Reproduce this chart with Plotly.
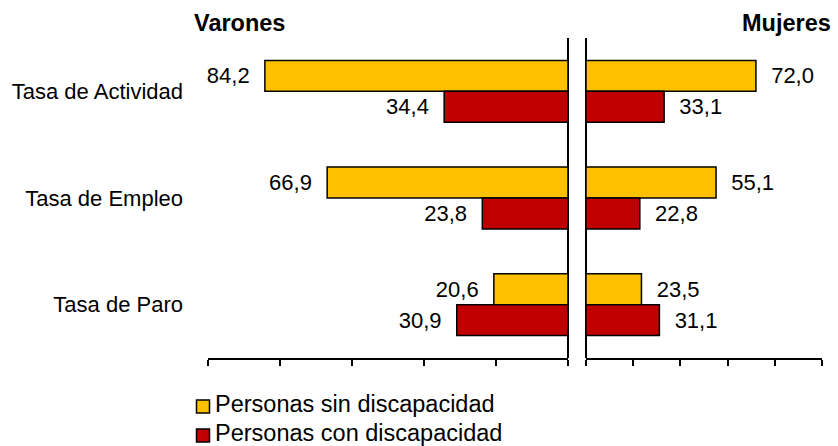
import plotly.graph_objects as go

categories = ["Tasa de Actividad", "Tasa de Empleo", "Tasa de Paro"]
series_names = ["Personas sin discapacidad", "Personas con discapacidad"]
varones_sin = [84.2, 66.9, 20.6]
varones_con = [34.4, 23.8, 30.9]
mujeres_sin = [72.0, 55.1, 23.5]
mujeres_con = [33.1, 22.8, 31.1]
panel_titles = ["Varones", "Mujeres"]

colors = ["#FFC000", "#C00000"]
W, H = 838, 446
FONT = "Liberation Sans, Arial, sans-serif"
FS = 22
FS_BIG = 23.5

def px_x(p):
    return p / W

def px_y(p):
    return (H - p) / H

ydom = [px_y(358), px_y(38)]
pad = "\u00a0\u00a0"

fig = go.Figure()
for name, vals, col in zip(series_names, [varones_sin, varones_con], colors):
    fig.add_trace(go.Bar(
        y=categories, x=vals, orientation="h", name=name,
        marker=dict(color=col, line=dict(color="black", width=1.5)),
        texttemplate="%{x:.1f}" + pad, textposition="outside",
        textfont=dict(size=FS, color="black", family=FONT),
        constraintext="none", cliponaxis=False,
        xaxis="x", yaxis="y", showlegend=False,
    ))
for name, vals, col in zip(series_names, [mujeres_sin, mujeres_con], colors):
    fig.add_trace(go.Bar(
        y=categories, x=vals, orientation="h", name=name,
        marker=dict(color=col, line=dict(color="black", width=1.5)),
        texttemplate=pad + "%{x:.1f}", textposition="outside",
        textfont=dict(size=FS, color="black", family=FONT),
        constraintext="none", cliponaxis=False,
        xaxis="x2", yaxis="y2", showlegend=False,
    ))

common_x = dict(showgrid=False, showticklabels=False, showline=True, linecolor="black",
                linewidth=2, ticks="outside", ticklen=6, tickwidth=2, tickcolor="black",
                dtick=20, tick0=0, zeroline=True, zerolinecolor="black", zerolinewidth=2,
                fixedrange=True)
over_x = dict(showgrid=False, showticklabels=False, showline=False, ticks="inside",
              ticklen=6, tickwidth=2, tickcolor="black", dtick=20, tick0=0,
              zeroline=False, side="bottom")

# Legend (drawn as swatches + labels)
legend_rows = [404, 433]
shapes = []
annotations = []
for name, col, yc in zip(series_names, colors, legend_rows):
    shapes.append(dict(type="rect", xref="paper", yref="paper",
                       x0=px_x(196.5), x1=px_x(209.5), y0=px_y(yc + 9), y1=px_y(yc - 4),
                       fillcolor=col, line=dict(color="black", width=1.5)))
    annotations.append(dict(text=name, x=px_x(213), y=px_y(yc), xref="paper", yref="paper",
                            xanchor="left", yanchor="middle", showarrow=False,
                            font=dict(size=FS_BIG, family=FONT, color="black")))

annotations += [
    dict(text="<b>" + panel_titles[0] + "</b>", x=px_x(192), y=px_y(23),
         xref="paper", yref="paper", xanchor="left", yanchor="middle",
         showarrow=False, font=dict(size=FS_BIG, family=FONT, color="black")),
    dict(text="<b>" + panel_titles[1] + "</b>", x=px_x(833), y=px_y(23),
         xref="paper", yref="paper", xanchor="right", yanchor="middle",
         showarrow=False, font=dict(size=FS_BIG, family=FONT, color="black")),
]

fig.update_layout(
    width=W, height=H,
    margin=dict(l=0, r=0, t=0, b=0),
    paper_bgcolor="white", plot_bgcolor="white",
    separators=",.",
    font=dict(family=FONT, size=FS, color="black"),
    barmode="group", bargap=0.42, bargroupgap=0,
    showlegend=False,
    xaxis=dict(domain=[px_x(208), px_x(568)], range=[100, 0], anchor="y", **common_x),
    xaxis2=dict(domain=[px_x(586), px_x(822)], range=[0, 100], anchor="y2", **common_x),
    xaxis3=dict(overlaying="x", anchor="y", range=[100, 0], **over_x),
    xaxis4=dict(overlaying="x2", anchor="y2", range=[0, 100], **over_x),
    yaxis=dict(domain=ydom, anchor="x", autorange="reversed", showline=False,
               showgrid=False, zeroline=False, ticks="", ticklabelstandoff=24,
               tickfont=dict(size=FS, family=FONT, color="black")),
    yaxis2=dict(domain=ydom, anchor="x2", autorange="reversed", showline=False,
                showgrid=False, zeroline=False, ticks="", showticklabels=False),
    shapes=shapes,
    annotations=annotations,
)

fig.write_html("out.html", config={"displayModeBar": False},
               post_script="document.body.style.margin='0';document.body.style.overflow='hidden';")
